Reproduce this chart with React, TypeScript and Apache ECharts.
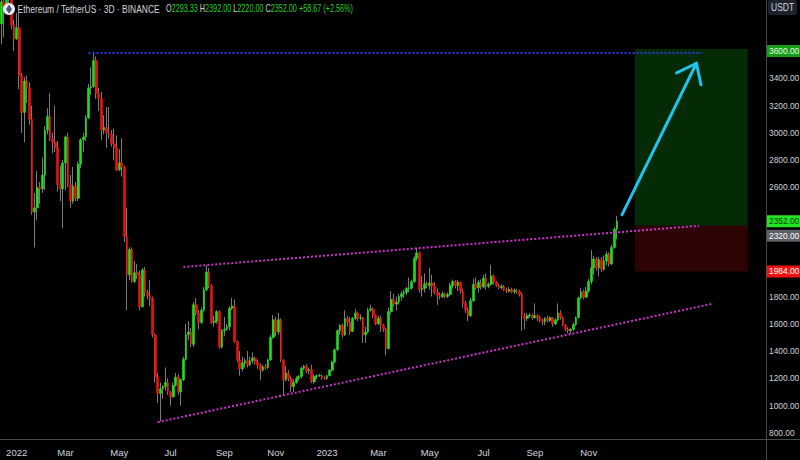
import React, { useEffect, useRef } from 'react';
import * as echarts from 'echarts';

// ---------- data ----------
const START_UTC = Date.UTC(2021, 11, 14); // first 3D candle
const STEP_DAYS = 3;
const SLOT_COUNT = 299; // candles + empty future slots
const MONTHS = ['Jan', 'Feb', 'Mar', 'Apr', 'May', 'Jun', 'Jul', 'Aug', 'Sep', 'Oct', 'Nov', 'Dec'];

// [open, high, low, close]
const ohlc: number[][] = [
  [3800, 4020, 3650, 3960], [3960, 4000, 3700, 3930], [3930, 4050, 3880, 3990], [3990, 4130, 3950, 4040],
  [4040, 4100, 3760, 3790], [3790, 3830, 3600, 3690], [3690, 3880, 3680, 3770], [3770, 3880, 3320, 3420],
  [3420, 3440, 3000, 3150], [3150, 3410, 2930, 3380], [3380, 3420, 3220, 3330], [3330, 3370, 3060, 3100],
  [3100, 3200, 2400, 2420], [2420, 2560, 2160, 2450], [2450, 2720, 2360, 2600], [2600, 2640, 2480, 2590],
  [2590, 2820, 2560, 2690], [2690, 3050, 2580, 3020], [3020, 3180, 2990, 3120], [3120, 3290, 2940, 2960],
  [2960, 3000, 2850, 2930], [2930, 3200, 2860, 2890], [2890, 2940, 2570, 2620], [2620, 2760, 2500, 2590],
  [2590, 2800, 2300, 2780], [2780, 2980, 2580, 2970], [2970, 3000, 2600, 2620], [2620, 2690, 2450, 2500],
  [2500, 2750, 2480, 2610], [2610, 2640, 2500, 2520], [2520, 2790, 2500, 2770], [2770, 2960, 2740, 2950],
  [2950, 3000, 2860, 2970], [2970, 3130, 2940, 3110], [3110, 3360, 3100, 3330], [3330, 3480, 3280, 3340],
  [3340, 3590, 3330, 3530], [3530, 3560, 3250, 3290], [3290, 3330, 3160, 3250], [3250, 3300, 2950, 3020],
  [3020, 3130, 2990, 3040], [3040, 3190, 2890, 3000], [3000, 3190, 2960, 2990], [2990, 3020, 2900, 2920],
  [2920, 3030, 2800, 2890], [2890, 2980, 2720, 2730], [2730, 2880, 2720, 2780], [2780, 2960, 2680, 2750],
  [2750, 2760, 2200, 2240], [2240, 2450, 1700, 1960], [1960, 2160, 1920, 2145], [2145, 2160, 1900, 1910],
  [1910, 2060, 1900, 1975], [1975, 2040, 1930, 1960], [1960, 1990, 1700, 1725], [1725, 2010, 1720, 1995],
  [1995, 2015, 1800, 1830], [1830, 1850, 1780, 1805], [1805, 1920, 1730, 1790], [1790, 1800, 1500, 1520],
  [1520, 1530, 1170, 1210], [1210, 1240, 1020, 1090], [1090, 1170, 885, 1125], [1125, 1150, 1050, 1140],
  [1140, 1280, 1110, 1170], [1170, 1200, 1080, 1100], [1100, 1110, 1000, 1065], [1065, 1170, 1060, 1150],
  [1150, 1240, 1140, 1210], [1210, 1230, 1080, 1100], [1100, 1200, 1000, 1190], [1190, 1360, 1180, 1340],
  [1340, 1600, 1330, 1520], [1520, 1620, 1480, 1540], [1540, 1570, 1430, 1450], [1450, 1760, 1430, 1740],
  [1740, 1790, 1660, 1680], [1680, 1700, 1560, 1610], [1610, 1720, 1600, 1700], [1700, 1870, 1690, 1850],
  [1850, 2030, 1840, 1980], [1980, 2010, 1860, 1880], [1880, 1890, 1600, 1610], [1610, 1660, 1580, 1620],
  [1620, 1700, 1600, 1690], [1690, 1700, 1420, 1430], [1430, 1560, 1420, 1550], [1550, 1650, 1510, 1560],
  [1560, 1600, 1550, 1580], [1580, 1730, 1550, 1715], [1715, 1790, 1700, 1730], [1730, 1780, 1460, 1470],
  [1470, 1480, 1320, 1335], [1335, 1400, 1220, 1270], [1270, 1360, 1250, 1315], [1315, 1350, 1280, 1330],
  [1330, 1400, 1280, 1300], [1300, 1360, 1290, 1330], [1330, 1390, 1310, 1350], [1350, 1360, 1300, 1320],
  [1320, 1335, 1270, 1295], [1295, 1310, 1190, 1260], [1260, 1300, 1250, 1285], [1285, 1305, 1265, 1280],
  [1280, 1345, 1270, 1335], [1335, 1520, 1330, 1500], [1500, 1665, 1490, 1630], [1630, 1650, 1510, 1540],
  [1540, 1680, 1520, 1630], [1630, 1640, 1320, 1335], [1335, 1340, 1075, 1190], [1190, 1290, 1180, 1240],
  [1240, 1260, 1180, 1200], [1200, 1215, 1100, 1140], [1140, 1190, 1100, 1170], [1170, 1215, 1160, 1200],
  [1200, 1225, 1185, 1215], [1215, 1285, 1200, 1275], [1275, 1300, 1260, 1290], [1290, 1305, 1240, 1255],
  [1255, 1280, 1230, 1265], [1265, 1300, 1165, 1175], [1175, 1230, 1160, 1215], [1215, 1230, 1195, 1220],
  [1220, 1235, 1210, 1222], [1222, 1230, 1190, 1205], [1205, 1220, 1190, 1200], [1200, 1225, 1190, 1220],
  [1220, 1270, 1215, 1260], [1260, 1330, 1250, 1320], [1320, 1420, 1310, 1410], [1410, 1560, 1400, 1550],
  [1550, 1600, 1520, 1590], [1590, 1600, 1500, 1520], [1520, 1700, 1510, 1640], [1640, 1660, 1580, 1610],
  [1610, 1650, 1520, 1545], [1545, 1650, 1540, 1640], [1640, 1710, 1630, 1680], [1680, 1690, 1620, 1640],
  [1640, 1670, 1625, 1645], [1645, 1650, 1460, 1520], [1520, 1580, 1460, 1540], [1540, 1720, 1530, 1700],
  [1700, 1740, 1690, 1710], [1710, 1720, 1640, 1660], [1660, 1670, 1590, 1600], [1600, 1660, 1590, 1640],
  [1640, 1660, 1540, 1590], [1590, 1600, 1540, 1560], [1560, 1570, 1370, 1420], [1420, 1720, 1410, 1690],
  [1690, 1840, 1670, 1780], [1780, 1820, 1730, 1745], [1745, 1800, 1700, 1760], [1760, 1820, 1740, 1800],
  [1800, 1840, 1770, 1820], [1820, 1850, 1790, 1830], [1830, 1870, 1810, 1860], [1860, 1940, 1830, 1862],
  [1862, 1925, 1850, 1910], [1910, 2095, 1900, 2080], [2080, 2155, 2060, 2120], [2120, 2130, 1830, 1850],
  [1850, 1950, 1800, 1860], [1860, 1970, 1830, 1895], [1895, 1910, 1860, 1880], [1880, 2010, 1850, 1900],
  [1900, 1960, 1800, 1880], [1880, 1905, 1815, 1830], [1830, 1860, 1740, 1810], [1810, 1830, 1780, 1800],
  [1800, 1835, 1790, 1820], [1820, 1830, 1790, 1800], [1800, 1830, 1790, 1815], [1815, 1900, 1805, 1880],
  [1880, 1925, 1860, 1910], [1910, 1920, 1860, 1880], [1880, 1920, 1840, 1905], [1905, 1910, 1820, 1840],
  [1840, 1860, 1720, 1750], [1750, 1770, 1680, 1700], [1700, 1720, 1620, 1660], [1660, 1790, 1650, 1770],
  [1770, 1930, 1760, 1890], [1890, 1940, 1850, 1865], [1865, 1920, 1830, 1905], [1905, 1925, 1850, 1870],
  [1870, 1960, 1860, 1935], [1935, 1970, 1850, 1875], [1875, 1905, 1860, 1890], [1890, 2030, 1880, 1950],
  [1950, 1960, 1890, 1905], [1905, 1915, 1870, 1880], [1880, 1895, 1850, 1865], [1865, 1890, 1850, 1875],
  [1875, 1885, 1840, 1850], [1850, 1865, 1825, 1840], [1840, 1870, 1830, 1852], [1852, 1865, 1825, 1835],
  [1835, 1860, 1820, 1845], [1845, 1858, 1820, 1838], [1838, 1850, 1800, 1815], [1815, 1830, 1550, 1660],
  [1660, 1680, 1560, 1640], [1640, 1680, 1620, 1660], [1660, 1680, 1645, 1665], [1665, 1675, 1630, 1645],
  [1645, 1750, 1640, 1660], [1660, 1670, 1620, 1645], [1645, 1660, 1610, 1630], [1630, 1640, 1590, 1615],
  [1615, 1650, 1590, 1640], [1640, 1660, 1610, 1625], [1625, 1655, 1615, 1645], [1645, 1650, 1580, 1600],
  [1600, 1640, 1590, 1630], [1630, 1750, 1620, 1680], [1680, 1700, 1630, 1645], [1645, 1655, 1580, 1590],
  [1590, 1600, 1545, 1560], [1560, 1575, 1530, 1550], [1550, 1570, 1528, 1560], [1560, 1610, 1550, 1595],
  [1595, 1655, 1585, 1645], [1645, 1800, 1640, 1790], [1790, 1865, 1780, 1835], [1835, 1850, 1780, 1795],
  [1795, 1870, 1790, 1840], [1840, 1930, 1830, 1910], [1910, 2140, 1890, 2010], [2010, 2100, 1960, 2075],
  [2075, 2090, 1990, 2010], [2010, 2090, 1950, 2070], [2070, 2090, 1980, 2000], [2000, 2100, 1990, 2060],
  [2060, 2130, 2030, 2110], [2110, 2125, 2020, 2040], [2040, 2180, 2030, 2160], [2160, 2310, 2150, 2293.33],
  [2293.33, 2392, 2220, 2352],
];

// price axis
const PRICE_MIN = 800;
const PRICE_MAX = 3800;
const PRICE_STEP = 200;

// drawings (category index, price)
const upperTrend = [[71, 2017], [272, 2319]];
const lowerTrend = [[61, 880], [277, 1746]];
const resistance = [[34, 3590], [273, 3590]];
const arrowPath = [242, 2400, 271, 3510];
const positionSpan = [247, 291];
const targetTop = 3615;
const targetPrice = 3600;
const entryPrice = 2320;
const stopPrice = 1984;

// ---------- style ----------
const FONT = "'Liberation Sans', Arial, sans-serif";
const UP = '#1fe01f';
const DOWN = '#f01010';
const WICK = '#7c7c7c';
const TEXT = '#d1d4dc';
const AXIS_FONT = 8.4;
const PX_PER_UNIT = 409.29 / (PRICE_MAX - PRICE_MIN);

function slotStart(i: number) {
  return START_UTC + i * STEP_DAYS * 86400000;
}

const categories: string[] = Array.from({ length: SLOT_COUNT }, (_, i) =>
  new Date(slotStart(i)).toISOString().slice(0, 10)
);

function monthStartIn(i: number): Date | null {
  if (i >= ohlc.length) return null;
  for (let k = 0; k < STEP_DAYS; k++) {
    const d = new Date(slotStart(i) + k * 86400000);
    if (d.getUTCDate() === 1 && d.getUTCMonth() % 2 === 0) return d;
  }
  return null;
}

function buildOption(): any {
  const last = ohlc[ohlc.length - 1];
  const prevClose = ohlc[ohlc.length - 2][3];
  const lastClose = last[3];
  const change = lastClose - prevClose;
  const pct = (change / prevClose) * 100;
  const sign = change >= 0 ? '+' : '';

  const tags = [
    { value: targetPrice, bg: '#169c16', fg: '#e8ffe8', dy: 0 },
    { value: lastClose, bg: '#22e622', fg: '#0b3d0b', dy: 0 },
    { value: entryPrice, bg: '#5d5f66', fg: '#ffffff', dy: 10 },
    { value: stopPrice, bg: '#ee1111', fg: '#ffffff', dy: 0 },
  ];
  // axis labels that sit behind a price tag are hidden, as on the reference
  const covered = (v: number) =>
    tags.some((t) => Math.abs((v - t.value) * PX_PER_UNIT + t.dy) < 11);

  const dotted = (color: string) => ({ color, width: 2, type: 'dotted' as const });

  return {
    animation: false,
    backgroundColor: '#000000',
    grid: { left: 0, right: 33, top: 23.71, bottom: 27, containLabel: false, outerBoundsMode: 'none' },
    xAxis: {
      type: 'category',
      data: categories,
      boundaryGap: true,
      offset: 7,
      axisLine: { show: false },
      axisTick: { show: false },
      splitLine: { show: false },
      axisLabel: {
        interval: (index: number) => monthStartIn(index) !== null,
        formatter: (_v: string, index: number) => {
          const d = monthStartIn(index);
          if (!d) return '';
          return d.getUTCMonth() === 0 ? String(d.getUTCFullYear()) : MONTHS[d.getUTCMonth()];
        },
        color: TEXT,
        fontSize: 9.5,
        fontFamily: FONT,
        margin: 7,
      },
    },
    yAxis: {
      type: 'value',
      position: 'right',
      min: PRICE_MIN,
      max: PRICE_MAX,
      interval: PRICE_STEP,
      axisLine: { show: false },
      axisTick: { show: false },
      splitLine: { show: false },
      axisLabel: {
        color: TEXT,
        fontSize: AXIS_FONT,
        fontFamily: FONT,
        margin: 2,
        formatter: (v: number) => (v >= PRICE_MAX || covered(v) ? '' : v.toFixed(2)),
      },
    },
    series: [
      {
        name: 'wicks',
        type: 'candlestick',
        data: ohlc.map(([o, h, l, c]) => [o, c, l, h]),
        barWidth: 1,
        clip: false,
        z: 2,
        itemStyle: { color: 'transparent', color0: 'transparent', borderColor: WICK, borderColor0: WICK, borderWidth: 1 },
        markArea: {
          silent: true,
          data: [
            [{ coord: [positionSpan[0], targetTop], itemStyle: { color: '#042a06' } }, { coord: [positionSpan[1], entryPrice] }],
            [{ coord: [positionSpan[0], entryPrice], itemStyle: { color: '#2e0303' } }, { coord: [positionSpan[1], stopPrice] }],
          ],
        },
        markLine: {
          symbol: ['none', 'none'],
          silent: true,
          animation: false,
          lineStyle: { color: 'rgba(0,0,0,0)', width: 1, type: 'solid' },
          data: tags.map((t) => ({
            yAxis: t.value,
            label: {
              show: true,
              position: 'end',
              distance: 0,
              formatter: t.value.toFixed(2),
              backgroundColor: t.bg,
              color: t.fg,
              padding: [2, 1, 2, 2],
              fontSize: AXIS_FONT,
              fontFamily: FONT,
              offset: [0, t.dy],
            },
          })),
        },
      },
      {
        name: 'bodies',
        type: 'candlestick',
        data: ohlc.map(([o, , , c]) => [o, c, Math.min(o, c), Math.max(o, c)]),
        barWidth: 2.2,
        clip: false,
        z: 3,
        itemStyle: { color: UP, color0: DOWN, borderColor: UP, borderColor0: DOWN, borderWidth: 0.6 },
        markLine: {
          symbol: ['none', 'none'],
          silent: true,
          animation: false,
          label: { show: false },
          data: [
            [{ coord: resistance[0], lineStyle: dotted('#2638e0') }, { coord: resistance[1] }],
            [{ coord: upperTrend[0], lineStyle: dotted('#cc33cc') }, { coord: upperTrend[1] }],
            [{ coord: lowerTrend[0], lineStyle: dotted('#cc33cc') }, { coord: lowerTrend[1] }],
          ],
        },
      },
      {
        name: 'arrow',
        type: 'custom',
        data: [arrowPath],
        encode: { x: 0, y: 1 },
        clip: false,
        z: 10,
        renderItem: (_params: any, api: any) => {
          const a = api.coord([api.value(0), api.value(1)]);
          const b = api.coord([api.value(2), api.value(3)]);
          const dx = b[0] - a[0];
          const dy = b[1] - a[1];
          const len = Math.sqrt(dx * dx + dy * dy) || 1;
          const bx = -dx / len;
          const by = -dy / len;
          const head = 22;
          const ang = (38 * Math.PI) / 180;
          const rot = (s: number) => [
            b[0] + head * (bx * Math.cos(s * ang) - by * Math.sin(s * ang)),
            b[1] + head * (bx * Math.sin(s * ang) + by * Math.cos(s * ang)),
          ];
          const h1 = rot(1);
          const h2 = rot(-1);
          const st = { stroke: '#1fc3ee', lineWidth: 3, lineCap: 'round' };
          return {
            type: 'group',
            children: [
              { type: 'line', shape: { x1: a[0], y1: a[1], x2: b[0], y2: b[1] }, style: st },
              { type: 'line', shape: { x1: b[0], y1: b[1], x2: h1[0], y2: h1[1] }, style: st },
              { type: 'line', shape: { x1: b[0], y1: b[1], x2: h2[0], y2: h2[1] }, style: st },
            ],
          };
        },
      },
    ],
    graphic: [
      { type: 'line', shape: { x1: 0, y1: 439.5, x2: 800, y2: 439.5 }, style: { stroke: '#4a4a4a', lineWidth: 1 }, z: 20 },
      { type: 'line', shape: { x1: 766.5, y1: 0, x2: 766.5, y2: 460 }, style: { stroke: '#4a4a4a', lineWidth: 1 }, z: 20 },
      { type: 'rect', shape: { x: 768, y: 0, width: 29, height: 15, r: 2 }, style: { fill: '#1e222d' }, z: 20 },
      {
        type: 'text', x: 771, y: 8, z: 21, scaleX: 0.85,
        style: { text: 'USDT', fill: TEXT, fontSize: 10, fontFamily: FONT, verticalAlign: 'middle' },
      },
      { type: 'circle', shape: { cx: 9, cy: 9, r: 6 }, style: { fill: '#e9eaf2' }, z: 20 },
      { type: 'polygon', shape: { points: [[9, 4.5], [12, 9.3], [9, 13.5], [6, 9.3]] }, style: { fill: '#4a5078' }, z: 21 },
      {
        type: 'text', x: 17.5, y: 9, z: 21, scaleX: 0.77,
        style: { text: 'Ethereum / TetherUS · 3D · BINANCE', fill: TEXT, fontSize: 11, fontFamily: FONT, verticalAlign: 'middle' },
      },
      {
        type: 'text', x: 166, y: 9, z: 21, scaleX: 0.69,
        style: {
          text:
            `{k|O}{v|${last[0].toFixed(2)}} {k|H}{v|${last[1].toFixed(2)}} {k|L}{v|${last[2].toFixed(2)}} ` +
            `{k|C}{v|${last[3].toFixed(2)}} {v|${sign}${change.toFixed(2)} (${sign}${pct.toFixed(2)}%)}`,
          fontSize: 10.5,
          fontFamily: FONT,
          verticalAlign: 'middle',
          fill: TEXT,
          rich: {
            k: { fill: TEXT, fontSize: 10.5, fontFamily: FONT },
            v: { fill: '#22d422', fontSize: 10.5, fontFamily: FONT },
          },
        },
      },
    ],
  };
}

export default function App() {
  const ref = useRef<HTMLDivElement>(null);
  useEffect(() => {
    if (!ref.current) return;
    const chart = echarts.init(ref.current, null, { renderer: 'svg' });
    chart.setOption(buildOption());
    return () => chart.dispose();
  }, []);
  return (
    <div
      ref={ref}
      style={{ position: 'fixed', left: 0, top: 0, width: 800, height: 460, background: '#000' }}
    />
  );
}
